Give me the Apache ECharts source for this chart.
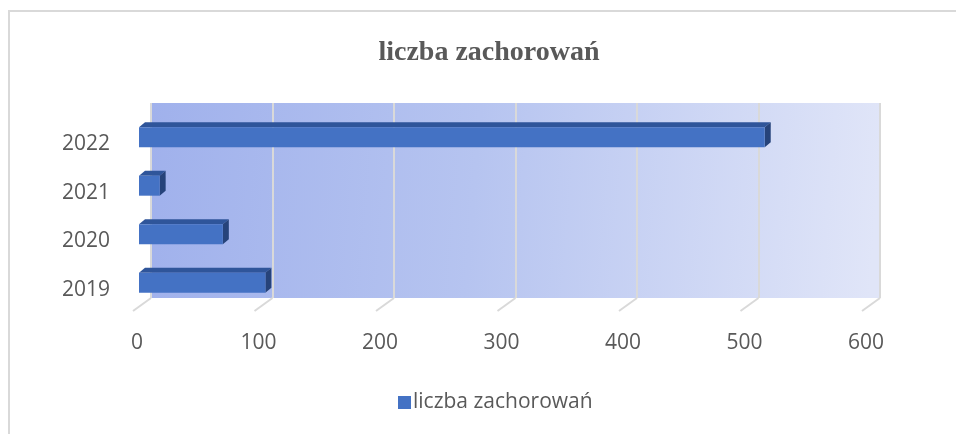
<!DOCTYPE html>
<html>
<head>
<meta charset="utf-8">
<script src="https://cdn.jsdelivr.net/npm/echarts@6/dist/echarts.min.js"></script>
<style>
  html, body { margin: 0; padding: 0; background: #fff; }
  #chart { width: 956px; height: 434px; }
</style>
</head>
<body>
<div id="chart"></div>
<script>
// dane
const years = ["2019", "2020", "2021", "2022"];
const cases = [104, 69, 17, 515];
const xTicks = [0, 100, 200, 300, 400, 500, 600];
const seriesName = "liczba zachorowań";

const chart = echarts.init(document.getElementById("chart"));

const labelFont = "'Open Sans', 'Liberation Sans', sans-serif";
const textGray = "#595959";

// słupek 3D: przód, góra, prawy bok
const renderBar = (params, api) => {
  const val = api.value(0);
  const cat = api.value(1);
  const start = api.coord([0, cat]);
  const end = api.coord([val, cat]);
  const h = api.size([0, 1])[1] * 0.41;
  const dx = 6, dy = -5;
  const x0 = start[0], x1 = end[0];
  const yT = start[1] - h / 2, yB = start[1] + h / 2;
  return {
    type: "group",
    children: [
      {
        type: "polygon",
        shape: { points: [[x0, yT], [x0 + dx, yT + dy], [x1 + dx, yT + dy], [x1, yT]] },
        style: { fill: "#2F559A" }
      },
      {
        type: "polygon",
        shape: { points: [[x1, yT], [x1 + dx, yT + dy], [x1 + dx, yB + dy], [x1, yB]] },
        style: { fill: "#26437A" }
      },
      {
        type: "rect",
        shape: { x: x0, y: yT, width: x1 - x0, height: h },
        style: { fill: "#4472C4" }
      }
    ]
  };
};

// ukośne kreski podłogi
const renderTick = (params, api) => {
  const p = api.coord([api.value(0), 0]);
  return {
    type: "line",
    shape: { x1: p[0], y1: p[1], x2: p[0] - 18, y2: p[1] + 13 },
    style: { stroke: "#d9d9d9", lineWidth: 2 }
  };
};

const option = {
  animation: false,
  backgroundColor: "#fff",
  title: {
    text: seriesName,
    left: 484,
    textAlign: "center",
    top: 34,
    textStyle: {
      fontFamily: "'Liberation Serif', serif",
      fontWeight: "bold",
      fontSize: 28,
      color: textGray
    }
  },
  legend: {
    left: 393,
    top: 387,
    icon: "rect",
    itemWidth: 13,
    itemHeight: 13,
    itemGap: 10,
    textStyle: { fontFamily: labelFont, fontSize: 21, color: textGray, padding: [0, 0, 0, -3] },
    data: [seriesName]
  },
  graphic: [
    {
      type: "rect",
      shape: { x: 9, y: 11, width: 960, height: 440 },
      style: { fill: "none", stroke: "#d9d9d9", lineWidth: 2 },
      silent: true
    }
  ],
  grid: [
    {
      left: 151,
      right: 76,
      top: 103,
      bottom: 136,
      show: true,
      borderWidth: 0,
      backgroundColor: new echarts.graphic.LinearGradient(0, 0, 1, 0.3, [
        { offset: 0, color: "#A0B1EC" },
        { offset: 0.45, color: "#B6C4F0" },
        { offset: 1, color: "#E0E5F8" }
      ])
    },
    { left: 139, right: 88, top: 113, bottom: 127 },
    // tylko etykiety lat, lekko niżej niż słupki
    { left: 139, right: 88, top: 120, bottom: 120 }
  ],
  xAxis: [
    {
      gridIndex: 0,
      type: "value",
      min: 0,
      max: 600,
      interval: 100,
      axisLine: { show: false },
      axisTick: { show: false },
      splitLine: { show: true, lineStyle: { color: "#d9d9d9", width: 2 } },
      axisLabel: {
        margin: 35,
        padding: [0, 28, 0, 0],
        fontFamily: labelFont,
        fontSize: 21,
        color: textGray
      }
    },
    { gridIndex: 1, type: "value", min: 0, max: 600, show: false },
    { gridIndex: 2, type: "value", min: 0, max: 600, show: false }
  ],
  yAxis: [
    { gridIndex: 0, type: "value", min: 0, max: 1, show: false },
    { gridIndex: 1, type: "category", data: years, show: false },
    {
      gridIndex: 2,
      type: "category",
      data: years,
      axisLine: { show: false },
      axisTick: { show: false },
      axisLabel: {
        margin: 29,
        fontFamily: labelFont,
        fontSize: 21,
        color: textGray
      }
    }
  ],
  series: [
    {
      type: "custom",
      name: "ticks",
      xAxisIndex: 0,
      yAxisIndex: 0,
      clip: false,
      silent: true,
      renderItem: renderTick,
      data: xTicks.map(v => [v]),
      encode: { x: 0 }
    },
    {
      type: "custom",
      name: seriesName,
      xAxisIndex: 1,
      yAxisIndex: 1,
      itemStyle: { color: "#4472C4" },
      renderItem: renderBar,
      data: cases.map((v, i) => [v, years[i]]),
      encode: { x: 0, y: 1 }
    }
  ]
};

chart.setOption(option);
</script>
</body>
</html>
